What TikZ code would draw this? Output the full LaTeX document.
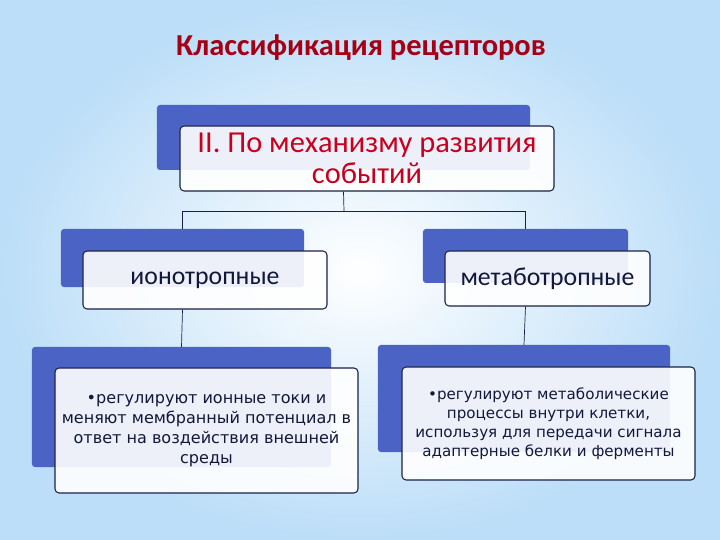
\documentclass[tikz,border=0pt]{standalone}
\usepackage{fontspec}
\setmainfont{Carlito}
\newfontfamily\bodyfont{DejaVu Sans}
\usetikzlibrary{positioning}

\definecolor{backblue}{RGB}{74,99,196}
\definecolor{boxline}{RGB}{25,33,72}
\definecolor{titlered}{RGB}{165,0,20}
\definecolor{headred}{RGB}{200,0,30}
\definecolor{textnavy}{RGB}{18,24,58}
\definecolor{skyblue}{RGB}{188,222,248}

\begin{document}
\begin{tikzpicture}[
  x=0.03cm, y=-0.03cm,
  backbox/.style={fill=backblue, rounded corners=2.5pt, inner sep=0pt},
  frontbox/.style={draw=boxline, line width=0.9pt, fill=white, fill opacity=0.9,
    text opacity=1, rounded corners=3.5pt, inner sep=0pt, align=center},
  link/.style={draw=boxline, line width=0.6pt},
  headlab/.style={font=\fontsize{26}{26}\selectfont, text=headred},
  typelab/.style={font=\fontsize{22}{26}\selectfont, text=textnavy},
  desclab/.style={font=\bodyfont\fontsize{13.7}{17}\selectfont, text=textnavy}
]
\path[use as bounding box] (0,0) rectangle (720,540);
\shade[inner color=white, outer color=skyblue] (0,0) rectangle (720,540);

\node[font=\bfseries\fontsize{26}{30}\selectfont, text=titlered] (title) at (361,48)
  {Классификация рецепторов};

% back boxes
\node[backbox, minimum width=11.19cm, minimum height=1.95cm] (topback) at (343.5,137.5) {};
\node[backbox, minimum width=7.29cm, minimum height=1.74cm] (ionoback) at (182.5,258) {};
\node[backbox, minimum width=6.15cm, minimum height=1.62cm] (metaback) at (525.5,256) {};
\node[backbox, minimum width=8.97cm, minimum height=3.6cm] (ionodescback) at (181.5,407) {};
\node[backbox, minimum width=8.76cm, minimum height=3.21cm] (metadescback) at (524,398.5) {};

% front boxes
\node[frontbox, headlab, minimum width=11.22cm, minimum height=1.95cm] (topfront) at (367,158.5)
  {II. По механизму развития\\событий};
\node[frontbox, typelab, minimum width=7.32cm, minimum height=1.74cm] (ionofront) at (205,280)
  {ионотропные};
\node[frontbox, typelab, minimum width=6.15cm, minimum height=1.65cm] (metafront) at (547.5,278.5)
  {метаботропные};
\node[frontbox, desclab, minimum width=9.09cm, minimum height=3.75cm] (ionodesc) at (206.5,430.5)
  {•регулируют ионные токи и\\меняют мембранный потенциал в\\ответ на воздействия внешней\\среды};
\node[frontbox, desclab, font=\bodyfont\fontsize{12.9}{16.2}\selectfont,
  minimum width=8.79cm, minimum height=3.39cm] (metadesc) at (548.5,423.5)
  {•регулируют метаболические\\процессы внутри клетки,\\используя для передачи сигнала\\адаптерные белки и ферменты};

% connectors
\coordinate (fork) at (344,211);
\draw[link] (topback.center |- topfront.south) -- (fork);
\draw[link] (fork) -| (ionoback.north);
\draw[link] (fork) -| (metaback.north);
\draw[link] (ionoback.center |- ionofront.south) -- (ionodescback.north);
\draw[link] (metaback.center |- metafront.south) -- (metadescback.north);
\end{tikzpicture}
\end{document}
